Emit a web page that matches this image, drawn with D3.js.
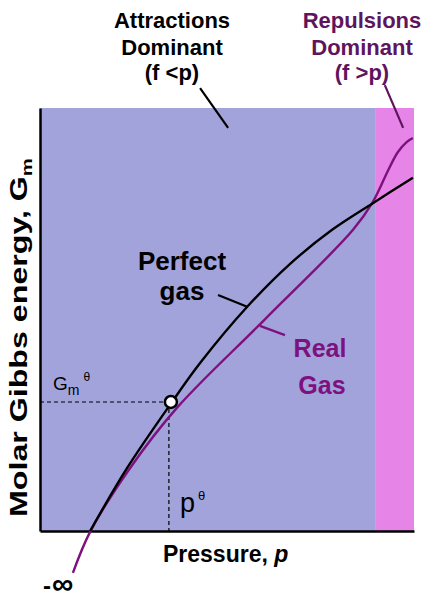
<!DOCTYPE html>
<html><head><meta charset="utf-8">
<script src="https://cdn.jsdelivr.net/npm/d3@7"></script>
<style>body{margin:0;background:#fff}</style>
</head><body>
<svg id="c" width="425" height="599"></svg>
<script>
// ---- data (arbitrary units) ----
const perfectP = [13.4, 23.3, 35.3, 42.8, 55.4, 66.8, 78.1, 89.0, 99.7];
const perfectG = [0.0, 14.9, 30.5, 39.7, 53.0, 63.1, 71.2, 77.5, 83.5];
const realP = [8.8, 13.4, 24.1, 36.6, 60.2, 83.7, 89.0, 93.1, 95.7, 98.1, 99.7];
const realG = [-9.9, -0.2, 14.9, 29.1, 50.1, 71.2, 77.8, 85.3, 89.6, 92.0, 92.9];
const regionNames = ["Attractions", "Repulsions"];
const regionEdges = [0, 89.6, 100];
const stdP = 35.0, stdG = 30.5;
const xDomain = [0, 100], yDomain = [0, 100];

const svg = d3.select("#c");
const x = d3.scaleLinear().domain(xDomain).range([40, 414]);
const y = d3.scaleLinear().domain(yDomain).range([531, 108]);
const FONT = "'Liberation Sans', Arial, sans-serif";
const BLUE = "#a3a3dc", PINK = "#e684e8", PURPLE = "#7d117d", DPURPLE = "#5e145e";

// regions
svg.selectAll("rect.reg").data(regionNames).join("rect")
  .attr("x", (d, i) => x(regionEdges[i]))
  .attr("width", (d, i) => x(regionEdges[i + 1]) - x(regionEdges[i]))
  .attr("y", y(yDomain[1])).attr("height", y(yDomain[0]) - y(yDomain[1]))
  .attr("fill", (d, i) => i === 0 ? BLUE : PINK);

// axes
svg.append("g").attr("transform", `translate(${x(0)},0)`)
  .call(d3.axisLeft(y).tickValues([]).tickSizeOuter(0));
svg.append("g").attr("transform", `translate(0,${y(0)})`)
  .call(d3.axisBottom(x).tickValues([]).tickSizeOuter(0));
svg.selectAll(".domain").attr("stroke", "#000").attr("stroke-width", 2.5);

// dashed guides
const dash = svg.append("g").attr("stroke", "#000").attr("stroke-width", 1.2).attr("stroke-dasharray", "4,3");
dash.append("line").attr("x1", x(0)).attr("x2", x(stdP)).attr("y1", y(stdG)).attr("y2", y(stdG));
dash.append("line").attr("x1", x(stdP) - 2).attr("x2", x(stdP) - 2).attr("y1", y(stdG)).attr("y2", y(0));

// curves
const line = d3.line().x(d => x(d[0])).y(d => y(d[1])).curve(d3.curveCatmullRom);
svg.append("path").datum(realP.map((p, i) => [p, realG[i]]))
  .attr("d", line).attr("fill", "none").attr("stroke", PURPLE).attr("stroke-width", 2.4);
svg.append("path").datum(perfectP.map((p, i) => [p, perfectG[i]]))
  .attr("d", line).attr("fill", "none").attr("stroke", "#000").attr("stroke-width", 2.4);

svg.append("circle").attr("cx", x(stdP)).attr("cy", y(stdG)).attr("r", 6)
  .attr("fill", "#fff").attr("stroke", "#000").attr("stroke-width", 2.5);

// leader lines (data units)
const leaders = [
  {a: [42.8, 104.7], b: [50.3, 95.3], c: "#000"},
  {a: [92.2, 105.4], b: [97.1, 95.3], c: DPURPLE},
  {a: [47.6, 55.8], b: [55.4, 53.0], c: "#000"},
  {a: [58.8, 48.5], b: [65.5, 46.3], c: PURPLE}
];
svg.selectAll("line.ld").data(leaders).join("line")
  .attr("x1", d => x(d.a[0])).attr("y1", d => y(d.a[1]))
  .attr("x2", d => x(d.b[0])).attr("y2", d => y(d.b[1]))
  .attr("stroke", d => d.c).attr("stroke-width", 2.2);

// text helper
function txt(s, px, py, size, color, anchor, weight) {
  return svg.append("text").attr("x", px).attr("y", py).text(s)
    .attr("font-family", FONT).attr("font-size", size).attr("font-weight", weight || "bold")
    .attr("fill", color).attr("text-anchor", anchor || "middle");
}
txt("Attractions", 172, 28, 22, "#000");
txt("Dominant", 172, 55, 22, "#000");
txt("(f <p)", 172, 80, 22, "#000");
txt("Repulsions", 362, 28, 22, DPURPLE);
txt("Dominant", 362, 55, 22, DPURPLE);
txt("(f >p)", 362, 80, 22, DPURPLE);
txt("Perfect", 182, 270, 26, "#000");
txt("gas", 182, 300, 26, "#000");
txt("Real", 320, 357, 25, PURPLE);
txt("Gas", 322, 394, 25, PURPLE);

// x label
const xl = svg.append("text").attr("x", 163).attr("y", 562)
  .attr("font-family", FONT).attr("font-size", 23).attr("font-weight", "bold").attr("fill", "#000");
xl.append("tspan").text("Pressure, ");
xl.append("tspan").text("p").attr("font-style", "italic");

// minus infinity
const inf = svg.append("text").attr("x", 43).attr("y", 594).attr("font-family", FONT)
  .attr("font-weight", "bold").attr("fill", "#000");
inf.append("tspan").text("-").attr("font-size", 24);
inf.append("tspan").text("∞").attr("font-size", 30).attr("dx", 1);

// y label
const yl = svg.append("text").attr("font-family", FONT).attr("font-size", 24)
  .attr("font-weight", "bold").attr("fill", "#000")
  .attr("transform", "translate(27,517) rotate(-90)");
yl.append("tspan").text("Molar Gibbs energy, G");
yl.append("tspan").text("m").attr("font-size", 15).attr("dy", 5);
const L = yl.node().getComputedTextLength();
yl.attr("transform", `translate(27,517) rotate(-90) scale(${359 / L},1)`);

// standard markers
const gm = svg.append("text").attr("x", 53).attr("y", 390).attr("font-family", FONT)
  .attr("font-size", 19).attr("fill", "#000");
gm.append("tspan").text("G");
gm.append("tspan").text("m").attr("font-size", 14).attr("dy", 5);
gm.append("tspan").text("θ").attr("font-size", 12).attr("dx", 4).attr("dy", -14);

const ps = svg.append("text").attr("x", 180).attr("y", 512).attr("font-family", FONT)
  .attr("font-size", 27).attr("fill", "#000");
ps.append("tspan").text("p");
ps.append("tspan").text("θ").attr("font-size", 13).attr("dx", 3).attr("dy", -12);
</script>
</body></html>
